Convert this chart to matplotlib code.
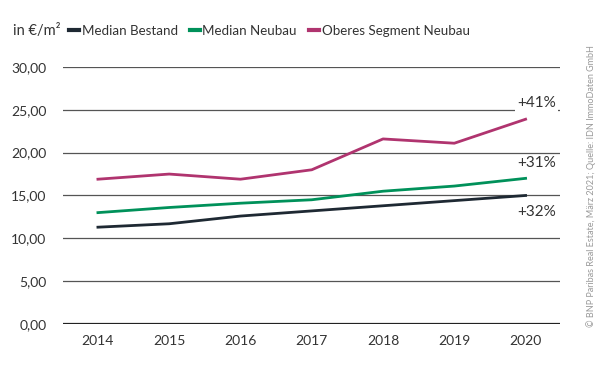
import matplotlib.pyplot as plt

plt.rcParams['font.family'] = ['Lato', 'DejaVu Sans']

years = [2014, 2015, 2016, 2017, 2018, 2019, 2020]
median_bestand = [11.3, 11.7, 12.6, 13.2, 13.8, 14.4, 15.0]
median_neubau = [13.0, 13.6, 14.1, 14.5, 15.5, 16.1, 17.0]
oberes_segment = [16.9, 17.5, 16.9, 18.0, 21.6, 21.1, 23.9]
labels = ['Median Bestand', 'Median Neubau', 'Oberes Segment Neubau']
changes = ['+32%', '+31%', '+41%']
colors = ['#1e2933', '#00915a', '#b0346f']
yticks = [0, 5, 10, 15, 20, 25, 30]

fig = plt.figure(figsize=(6, 3.72), dpi=100)
ax = fig.add_axes([0.105, 0.129, 0.828, 0.691])

for y in yticks:
    ax.axhline(y, color='#222222' if y == 0 else '#555555',
               lw=1.6 if y == 0 else 0.9, zorder=1)

series = [median_bestand, median_neubau, oberes_segment]
for vals, lab, col in zip(series, labels, colors):
    ax.plot(years, vals, color=col, lw=2, label=lab, zorder=3)

# percentage labels at the end of the lines
ax.text(2019.88, 13.1, changes[0], fontsize=11, color='#333333', ha='left', va='center')
ax.text(2019.88, 18.8, changes[1], fontsize=11, color='#333333', ha='left', va='center')
ax.text(2019.88, 25.8, changes[2], fontsize=11, color='#333333', ha='left', va='center',
        bbox=dict(facecolor='white', edgecolor='none', pad=1.5), zorder=4)

ax.set_xlim(2013.51, 2020.48)
ax.set_ylim(0, 30)
ax.set_xticks(years)
ax.set_yticks(yticks)
ax.set_yticklabels([f'{v:.2f}'.replace('.', ',') for v in yticks])
ax.tick_params(length=0, labelsize=10, labelcolor='#333333', pad=8)
ax.tick_params(axis='y', pad=12)
for s in ax.spines.values():
    s.set_visible(False)

fig.text(0.022, 0.918, 'in €/m²', fontsize=10.5, color='#333333', va='center')
fig.legend(loc='center left', bbox_to_anchor=(0.115, 0.918), ncol=3, frameon=False,
           fontsize=9.6, handlelength=0.75, handletextpad=0.2,
           columnspacing=0.9, labelcolor='#333333', borderaxespad=0, borderpad=0)
for line in fig.legends[0].get_lines():
    line.set_linewidth(3)

fig.text(0.985, 0.5, '© BNP Paribas Real Estate, März 2021; Quelle: IDN ImmoDaten GmbH',
         rotation=90, fontsize=6.5, color='#999999', ha='center', va='center')

fig.savefig('out.png', dpi=100)
